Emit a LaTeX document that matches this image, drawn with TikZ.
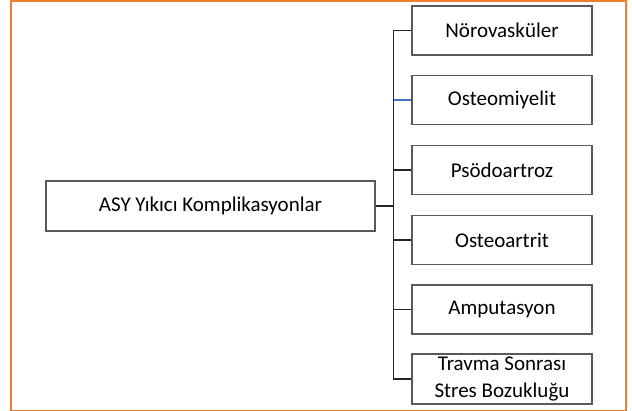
\documentclass[tikz,border=0pt]{standalone}
\usepackage{fontspec}
\setmainfont{Carlito}
\definecolor{frameorange}{HTML}{ED7D31}
\definecolor{boxgray}{HTML}{595959}
\definecolor{linkblue}{HTML}{4472C4}
\tikzset{
	item/.style={draw=boxgray, line width=1.5pt, minimum width=180pt, minimum height=49pt,
		align=center, inner sep=0pt, font=\fontsize{21}{26.5}\selectfont},
	conn/.style={line width=1.4pt, draw=black!85}
}
\begin{document}
\begin{tikzpicture}[x=1pt, y=-1pt]
	\useasboundingbox (0,0) rectangle (632,411);
	\draw[frameorange, line width=2.5pt] (11,1.25) rectangle (626,411.5);

	\node[item, minimum width=329pt, minimum height=50pt] (root) at (210.5,206) {ASY Yıkıcı Komplikasyonlar};

	\node[item] (noro) at (502,30.5) {Nörovasküler};
	\node[item] (osteom) at (502,100) {Osteomiyelit};
	\node[item] (psodo) at (502,170) {Psödoartroz};
	\node[item] (osteoa) at (502,240) {Osteoartrit};
	\node[item] (amput) at (502,309.5) {Amputasyon};
	\node[item, minimum height=50pt] (travma) at (502,379) {Travma Sonrası\\[0pt]Stres Bozukluğu};

	\path (root.east) ++(18,0) coordinate (j);
	\draw[conn] (root.east) -- (j);
	\draw[conn] (noro.west) -| (j);
	\draw[conn] (travma.west) -| (j);
	\draw[conn, draw=linkblue] (osteom.west) -- (osteom.west -| j);
	\draw[conn] (psodo.west) -- (psodo.west -| j);
	\draw[conn] (osteoa.west) -- (osteoa.west -| j);
	\draw[conn] (amput.west) -- (amput.west -| j);
\end{tikzpicture}
\end{document}
